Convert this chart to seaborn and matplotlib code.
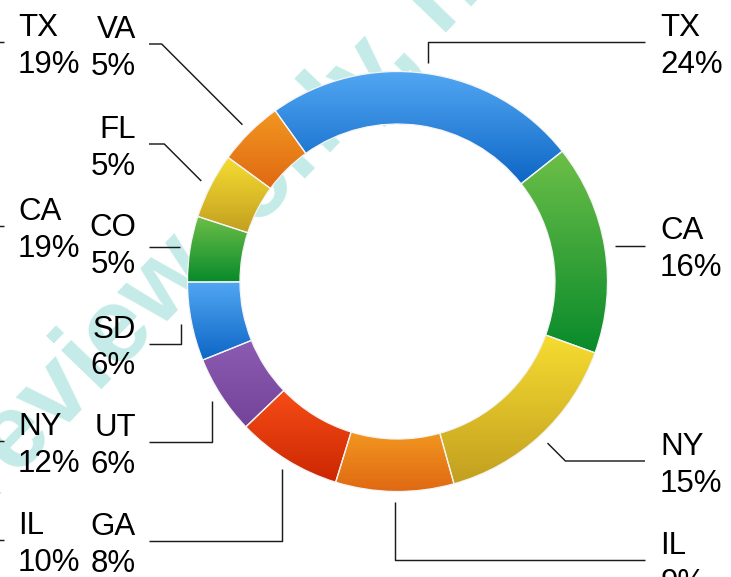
import numpy as np
import matplotlib
matplotlib.use("Agg")
import matplotlib.pyplot as plt
import seaborn as sns
from matplotlib.colors import LinearSegmentedColormap

# Share of respondents by state
states = ["TX", "CA", "NY", "IL", "GA", "UT", "SD", "CO", "FL", "VA"]
shares = [24, 16, 15, 9, 8, 6, 6, 5, 5, 5]

# Labels of the neighbouring panel, whose right edge shows at the left margin
prev_states = ["TX", "CA", "NY", "IL"]
prev_shares = [19, 19, 12, 10]

# Vertical gradient (top, bottom) for each slice
gradients = [
    ("#52a7f3", "#0d66c5"),
    ("#6dbf48", "#088a2b"),
    ("#f6dc31", "#c29f20"),
    ("#f29720", "#e06913"),
    ("#f64c17", "#cc2702"),
    ("#8b5cb2", "#73439a"),
    ("#52a7f3", "#0d66c5"),
    ("#6dbf48", "#088a2b"),
    ("#f6dc31", "#c29f20"),
    ("#f29720", "#e06913"),
]

# Label layout: side, connector style and label row (pixels from top)
sides = ["R", "R", "R", "R", "L", "L", "L", "L", "L", "L"]
connectors = ["vert", "horiz", "diag", "vert", "vert", "vert", "vert", "horiz", "diag", "diag"]
label_rows = [42, 245, 461, 560, 541, 442, 343.5, 242, 144, 44]
prev_rows = [42, 226, 441, 540]

sns.set_theme(style="white")
plt.rcParams["font.family"] = ["Liberation Sans", "DejaVu Sans"]

W, H = 731, 577
fig = plt.figure(figsize=(W / 100, H / 100), dpi=100)
ax = fig.add_axes([0, 0, 1, 1])

cx, cy = 397.5, H - 281.5
R, ring = 210, 52.5

# Watermark behind the ring
ax.text(-62, 18, "Preview  only, not for", rotation=46, rotation_mode="anchor",
        ha="left", va="baseline", fontsize=76, fontweight="bold",
        color="#c4ebe7", zorder=1)

wedges, _ = ax.pie(shares, radius=R, center=(cx, cy), startangle=125.6,
                   counterclock=False,
                   wedgeprops=dict(width=ring, linewidth=0.9, edgecolor="#f4f4f4"))

grad = np.linspace(0, 1, 256).reshape(-1, 1)
for w, (top, bot) in zip(wedges, gradients):
    w.set_facecolor("none")
    w.set_zorder(4)
    bb = w.get_path().get_extents()
    cmap = LinearSegmentedColormap.from_list("g", [top, bot])
    im = ax.imshow(grad, cmap=cmap, extent=(bb.x0, bb.x1, bb.y0, bb.y1),
                   origin="upper", aspect="auto", interpolation="bilinear", zorder=3)
    im.set_clip_path(w)

line_kw = dict(color="#1c1c1c", lw=1.05, zorder=5, solid_capstyle="butt")
fs = 22.5
right_end, left_end = 645, 149
right_text, left_text = 660, 136

for w, name, val, side, conn, row in zip(wedges, states, shares, sides, connectors, label_rows):
    mid = np.deg2rad((w.theta1 + w.theta2) / 2)
    ax_ = cx + 1.05 * R * np.cos(mid)
    ay_ = cy + 1.05 * R * np.sin(mid)
    ly = H - row
    xend = right_end if side == "R" else left_end
    sgn = 1 if side == "R" else -1
    if conn == "horiz":
        xs, ys = [ax_, xend], [ay_, ay_]
    elif conn == "vert":
        xs, ys = [ax_, ax_, xend], [ay_, ly, ly]
    else:
        dx = abs(ay_ - ly)
        xs, ys = [ax_, ax_ + sgn * dx, xend], [ay_, ly, ly]
    ax.plot(xs, ys, **line_kw)
    tx = right_text if side == "R" else left_text
    ha = "left" if side == "R" else "right"
    ax.text(tx, H - row + 6, name, ha=ha, va="baseline", fontsize=fs, color="black", zorder=6)
    ax.text(tx, H - row - 31, f"{val}%", ha=ha, va="baseline", fontsize=fs, color="black", zorder=6)

for name, val, row in zip(prev_states, prev_shares, prev_rows):
    ax.plot([-10, 4], [H - row, H - row], **line_kw)
    ax.text(18, H - row + 6, name, ha="left", va="baseline", fontsize=fs, color="black", zorder=6)
    ax.text(18, H - row - 31, f"{val}%", ha="left", va="baseline", fontsize=fs, color="black", zorder=6)

ax.set_xlim(0, W)
ax.set_ylim(0, H)
ax.set_aspect("equal")
ax.axis("off")

fig.savefig("out.png", dpi=100, facecolor="white")
